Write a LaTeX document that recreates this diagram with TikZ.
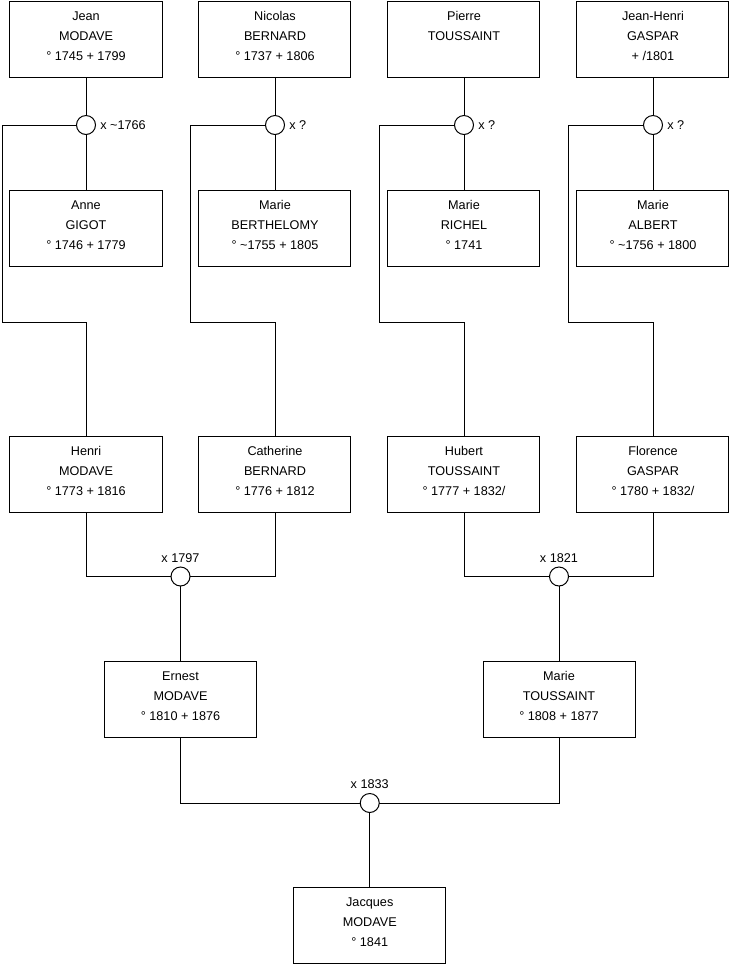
\documentclass[tikz,border=0pt]{standalone}
\usepackage{fontspec}
\setmainfont{Liberation Sans}
\usetikzlibrary{matrix}

\tikzset{
  person/.style={draw, rectangle, outer sep=0pt, inner sep=0pt,
    minimum width=114pt, minimum height=57pt},
  union/.style={draw, circle, outer sep=0pt, inner sep=0pt, minimum size=14.25pt},
  marriage/.style={inner sep=3.2pt}
}

% three centred lines: first name, surname, dates
\newcommand\who[3]{\begin{tabular}{@{}c@{}}#1\\#2\\#3\rule[-8.7pt]{0pt}{0pt}\end{tabular}}

\def\Ancestors{
    \matrix (tree)
    [matrix of nodes,
    nodes in empty cells,
    ampersand replacement=\&,
    anchor=north,
    inner sep=0pt, outer sep=0pt,
    column sep={27pt},
    row sep={0pt},
    nodes={person, anchor=center} ] at (369.5,0.5)
    {
     \who{Jean}{MODAVE}{° 1745 + 1799} \& \who{Nicolas}{BERNARD}{° 1737 + 1806} \& \who{Pierre}{TOUSSAINT}{\mbox{}} \& \who{Jean-Henri}{GASPAR}{+ /1801} \\[28.125pt]
     |[union]| \& |[union]| \& |[union]| \& |[union]| \\[40.875pt]
     \who{Anne}{GIGOT}{° 1746 + 1779} \& \who{Marie}{BERTHELOMY}{° \textasciitilde1755 + 1805} \& \who{Marie}{RICHEL}{° 1741} \& \who{Marie}{ALBERT}{° \textasciitilde1756 + 1800} \\[126.75pt]
     \who{Henri}{MODAVE}{° 1773 + 1816} \& \who{Catherine}{BERNARD}{° 1776 + 1812} \& \who{Hubert}{TOUSSAINT}{° 1777 + 1832/} \& \who{Florence}{GASPAR}{° 1780 + 1832/} \\
};
}

\begin{document}
\begin{tikzpicture}[x=0.75pt, y=-0.75pt, line width=0.75pt, font=\fontsize{9.5}{15}\selectfont]
    \useasboundingbox (0,0) rectangle (740,975);
    \Ancestors

    \draw (tree-1-1.south) -- (tree-2-1.north);
    \draw (tree-1-2.south) -- (tree-2-2.north);
    \draw (tree-1-3.south) -- (tree-2-3.north);
    \draw (tree-1-4.south) -- (tree-2-4.north);

    \draw (tree-2-1.south) -- (tree-3-1.north);
    \draw (tree-2-2.south) -- (tree-3-2.north);
    \draw (tree-2-3.south) -- (tree-3-3.north);
    \draw (tree-2-4.south) -- (tree-3-4.north);

    \node[marriage, anchor=west] (x1766) at (tree-2-1.east) {x \textasciitilde1766};
    \node[marriage, anchor=west] (xq2) at (tree-2-2.east) {x ?};
    \node[marriage, anchor=west] (xq3) at (tree-2-3.east) {x ?};
    \node[marriage, anchor=west] (xq4) at (tree-2-4.east) {x ?};

    \coordinate (bend-1) at (2,322);
    \coordinate (bend-2) at (190,322);
    \coordinate (bend-3) at (379,322);
    \coordinate (bend-4) at (568,322);

    \draw (tree-2-1.west) -| (bend-1) -| (tree-4-1.north);
    \draw (tree-2-2.west) -| (bend-2) -| (tree-4-2.north);
    \draw (tree-2-3.west) -| (bend-3) -| (tree-4-3.north);
    \draw (tree-2-4.west) -| (bend-4) -| (tree-4-4.north);

    \node[union] (m1797) at (180.5,576.5) {};
    \node[union] (m1821) at (559,576.5) {};
    \node[marriage, anchor=south] (x1797) at (m1797.north) {x 1797};
    \node[marriage, anchor=south] (x1821) at (m1821.north) {x 1821};

    \draw (tree-4-1.south) |- (m1797.west);
    \draw (tree-4-2.south) |- (m1797.east);
    \draw (tree-4-3.south) |- (m1821.west);
    \draw (tree-4-4.south) |- (m1821.east);

    \node[person] (ernest) at (180.5,699.5) {\who{Ernest}{MODAVE}{° 1810 + 1876}};
    \node[person] (marie) at (559,699.5) {\who{Marie}{TOUSSAINT}{° 1808 + 1877}};

    \draw (m1797.south) -- (ernest.north);
    \draw (m1821.south) -- (marie.north);

    \node[union] (m1833) at (369.75,803) {};
    \node[marriage, anchor=south] (x1833) at (m1833.north) {x 1833};

    \draw (ernest.south) |- (m1833.west);
    \draw (marie.south) |- (m1833.east);

    \node[person] (jacques) at (369.75,925) {\who{Jacques}{MODAVE}{° 1841}};
    \draw (m1833.south) -- (jacques.north);

\end{tikzpicture}
\end{document}
